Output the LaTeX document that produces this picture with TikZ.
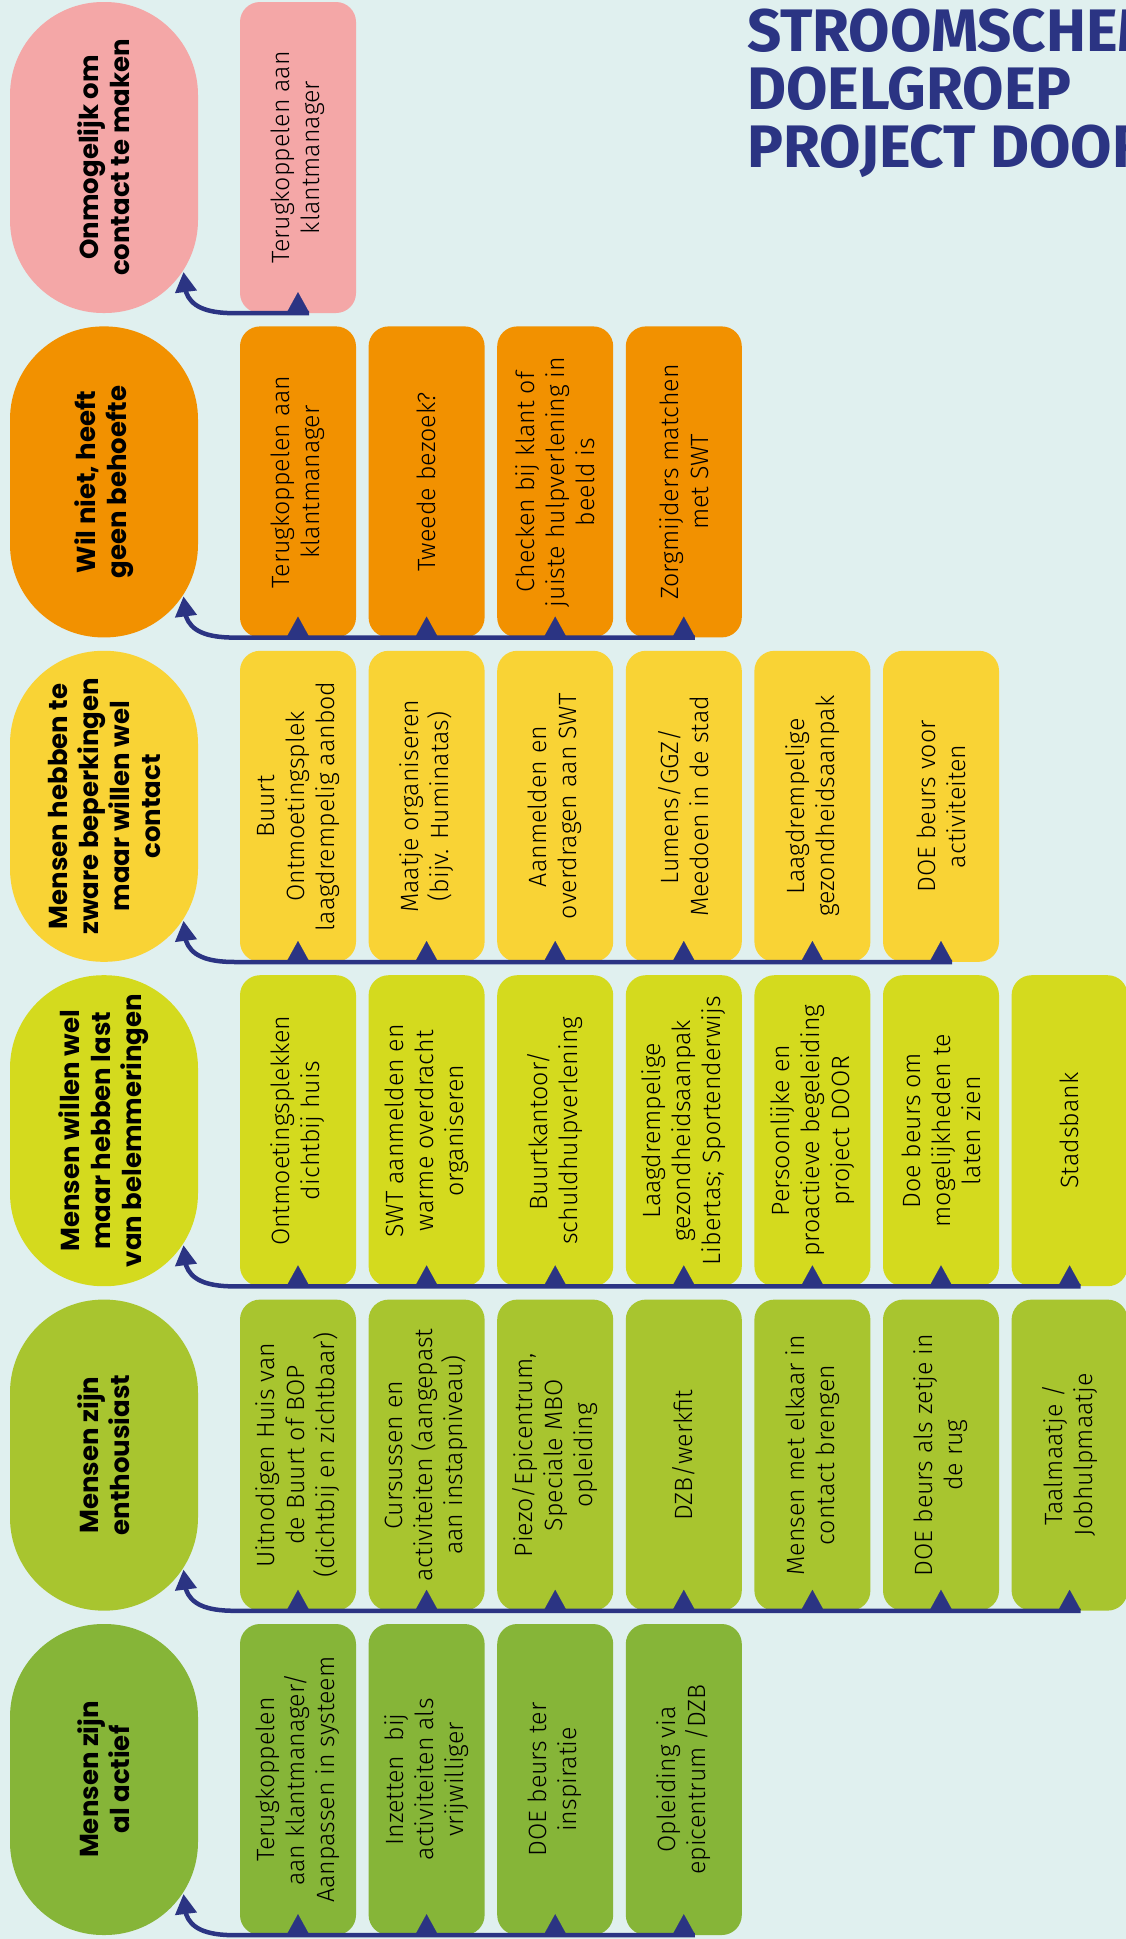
\documentclass[tikz,border=0pt]{standalone}
\usepackage{fontspec}
\setmainfont{Fira Sans}
\newfontfamily\boxfont{Fira Sans Light}
\newfontfamily\pillfont{Poppins}
\newfontfamily\titlefont{Fira Sans}
\usetikzlibrary{arrows.meta,calc}
\definecolor{bg}{HTML}{E0F0EF}
\definecolor{navy}{HTML}{2B3483}
\definecolor{cPink}{HTML}{F4A7A7}
\definecolor{cOrange}{HTML}{F29100}
\definecolor{cYellow}{HTML}{F9D335}
\definecolor{cLime}{HTML}{D4DA1E}
\definecolor{cYG}{HTML}{A8C52F}
\definecolor{cGreen}{HTML}{86B538}
\tikzset{
  pillbox/.style={rectangle, rounded corners=93pt, minimum width=311pt, minimum height=188pt,
    rotate=90, inner sep=0pt, align=center, text=black,
    font=\pillfont\bfseries\fontsize{26}{31}\selectfont},
  itembox/.style={rectangle, rounded corners=20pt, minimum width=311pt, minimum height=116pt,
    rotate=90, inner sep=0pt, align=center, text=black,
    font=\boxfont\fontsize{25}{30}\selectfont},
  conn/.style={draw=navy, line width=4.5pt, line cap=butt,
    {Triangle[length=20pt,width=21pt]}-},
  marker/.style={draw=navy, line width=0.1pt, -{Triangle[length=20pt,width=22pt]}},
}
\newcommand\flowrow[5]{%
  % #1 row id, #2 center y, #3 colour, #4 pill text, #5 items
  \node[pillbox, fill=#3] (p#1) at (104,#2) {#4};
  \foreach \t [count=\k from 0] in {#5} {
    \node[itembox, fill=#3] (b#1-\k) at ({298+128.6*\k},#2) {\t};
    \xdef\lastk{\k}
  }
  \foreach \k in {0,...,\lastk} {
    \draw[marker] (b#1-\k.west) -- ++(0,-21);
  }
  \draw[conn] ($(p#1.center)+(79.5,114.5)$) -- ($(p#1.center)+(82,134.5)$)
    .. controls +(5,14) and +(-30,0) .. ($(p#1.west)+(131,0)$)
    -- ($(b#1-\lastk.west)+(11,0)$);
}
\begin{document}
\begin{tikzpicture}[x=1pt,y=-1pt]
\useasboundingbox (0,0) rectangle (1126,1939);
\clip (0,0) rectangle (1126,1939);
\fill[bg] (0,0) rectangle (1126,1939);

\node[anchor=north west, align=left, inner sep=0pt, text=navy,
  font=\titlefont\bfseries\fontsize{60}{58}\selectfont] (title) at (747,9)
  {STROOMSCHEMA\\DOELGROEP\\PROJECT DOOR};

\flowrow{1}{157.5}{cPink}{Onmogelijk om\\contact te maken}
  {{Terugkoppelen aan\\klantmanager}}

\flowrow{2}{481.9}{cOrange}{Wil niet, heeft\\geen behoefte}
  {{Terugkoppelen aan\\klantmanager},
   {Tweede bezoek?},
   {Checken bij klant of\\juiste hulpverlening in\\beeld is},
   {Zorgmijders matchen\\met SWT}}

\flowrow{3}{806.3}{cYellow}{Mensen hebben te\\zware beperkingen\\maar willen wel\\contact}
  {{Buurt\\Ontmoetingsplek\\laagdrempelig aanbod},
   {Maatje organiseren\\(bijv. Huminatas)},
   {Aanmelden en\\overdragen aan SWT},
   {Lumens/GGZ/\\Meedoen in de stad},
   {Laagdrempelige\\gezondheidsaanpak},
   {DOE beurs voor\\activiteiten}}

\flowrow{4}{1130.7}{cLime}{Mensen willen wel\\maar hebben last\\van belemmeringen}
  {{Ontmoetingsplekken\\dichtbij huis},
   {SWT aanmelden en\\warme overdracht\\organiseren},
   {Buurtkantoor/\\schuldhulpverlening},
   {Laagdrempelige\\gezondheidsaanpak\\Libertas; Sportenderwijs},
   {Persoonlijke en\\proactieve begeleiding\\project DOOR},
   {Doe beurs om\\mogelijkheden te\\laten zien},
   {Stadsbank}}

\flowrow{5}{1455.1}{cYG}{Mensen zijn\\enthousiast}
  {{Uitnodigen Huis van\\de Buurt of BOP\\(dichtbij en zichtbaar)},
   {Cursussen en\\activiteiten (aangepast\\aan instapniveau)},
   {Piezo/Epicentrum,\\Speciale MBO\\opleiding},
   {DZB/werkfit},
   {Mensen met elkaar in\\contact brengen},
   {DOE beurs als zetje in\\de rug},
   {Taalmaatje /\\Jobhulpmaatje}}

\flowrow{6}{1779.5}{cGreen}{Mensen zijn\\al actief}
  {{Terugkoppelen\\aan klantmanager/\\Aanpassen in systeem},
   {Inzetten~ bij\\activiteiten als\\vrijwilliger},
   {DOE beurs ter\\inspiratie},
   {Opleiding via\\epicentrum /DZB}}
\end{tikzpicture}
\end{document}
